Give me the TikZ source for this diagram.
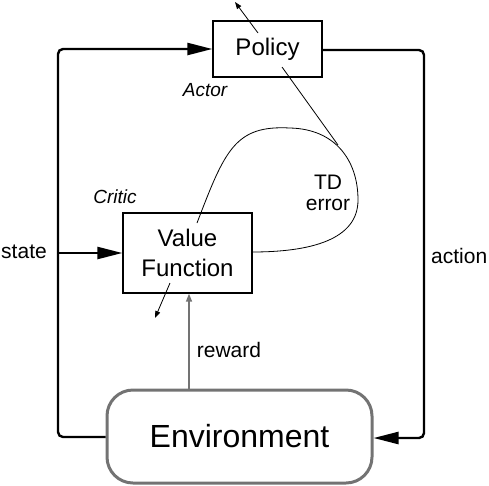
\documentclass[tikz,border=0pt]{standalone}
\usepackage{fontspec}
\setmainfont{Liberation Sans}
\usetikzlibrary{arrows.meta}
\begin{document}
\begin{tikzpicture}[x=1pt,y=-1pt,
  loop/.style={line width=2.4pt,rounded corners=5pt},
  bighead/.style={-{Triangle[length=25pt,width=12pt]}},
  lbl/.style={font=\fontsize{21}{23}\selectfont,inner sep=0pt},
  ital/.style={font=\fontsize{19}{21}\selectfont\itshape,inner sep=0pt}]
\useasboundingbox (0,0) rectangle (489,485);
% boxes
\node[draw,line width=1.3pt,minimum width=109pt,minimum height=56pt,inner sep=0pt,
  font=\fontsize{24}{26}\selectfont] (pol) at (267.5,49) {Policy};
\node[draw,line width=1.3pt,minimum width=129pt,minimum height=80pt,inner sep=0pt,
  align=center,font=\fontsize{24}{30}\selectfont] (val) at (187.5,253) {Value\\Function};
\node[draw=black!55,line width=3pt,rounded corners=26pt,minimum width=265pt,minimum height=93pt,
  inner sep=0pt,font=\fontsize{32}{34}\selectfont] (env) at (239.5,436.5) {Environment};
% labels
\node[ital] (actor) at (205,90) {Actor};
\node[ital] (critic) at (115,197) {Critic};
\node[lbl] (st) at (24,252) {state};
\node[lbl,anchor=west] (act) at (431,256) {action};
\node[lbl] (rew) at (229,350) {reward};
\node[lbl,align=center] (td) at (328,193) {TD\\[-2pt]error};
% coordinates
\coordinate (lt) at (58,49);
\coordinate (lb) at (58,437);
\coordinate (rt) at (424,50);
\coordinate (rb) at (424,438);
\coordinate (sb) at (58,253);
% main loop
\draw[loop] (env.west |- lb) -- (lb) -- (lt) -- ++(130,0);
\draw[bighead,line width=2.4pt] (188,49) -- (pol.west |- lt);
\draw[loop] (pol.east |- rt) -- (rt) -- (rb) -- (398,438);
\draw[bighead,line width=2.4pt] (400,438) -- (env.east |- rb);
\draw[line width=2.4pt] (sb) -- (95,253);
\draw[bighead,line width=2.4pt] (94,253) -- (val.west |- sb);
% reward
\draw[black!55,line width=1.5pt,-{Triangle[length=8pt,width=6pt]}] (env.north -| 189,0) -- (val.south -| 189,0);
% small arrows
\coordinate (pa) at (258,33);
\coordinate (pb) at (235,2);
\draw[line width=0.8pt,-{Triangle[length=7pt,width=5pt]}] (pa) -- (pb);
\coordinate (va) at (170,283);
\coordinate (vb) at (155,318);
\draw[line width=0.8pt,-{Triangle[length=7pt,width=5pt]}] (va) -- (vb);
% TD error
\coordinate (tdj) at (338,145);
\draw[line width=0.8pt] (282,67) -- (tdj);
\draw[line width=0.8pt] (197,223) .. controls (225,150) and (235,125) .. (290,128)
  .. controls (335,129) and (358,160) .. (358,200)
  .. controls (358,240) and (310,252) .. (252,252);
\end{tikzpicture}
\end{document}
